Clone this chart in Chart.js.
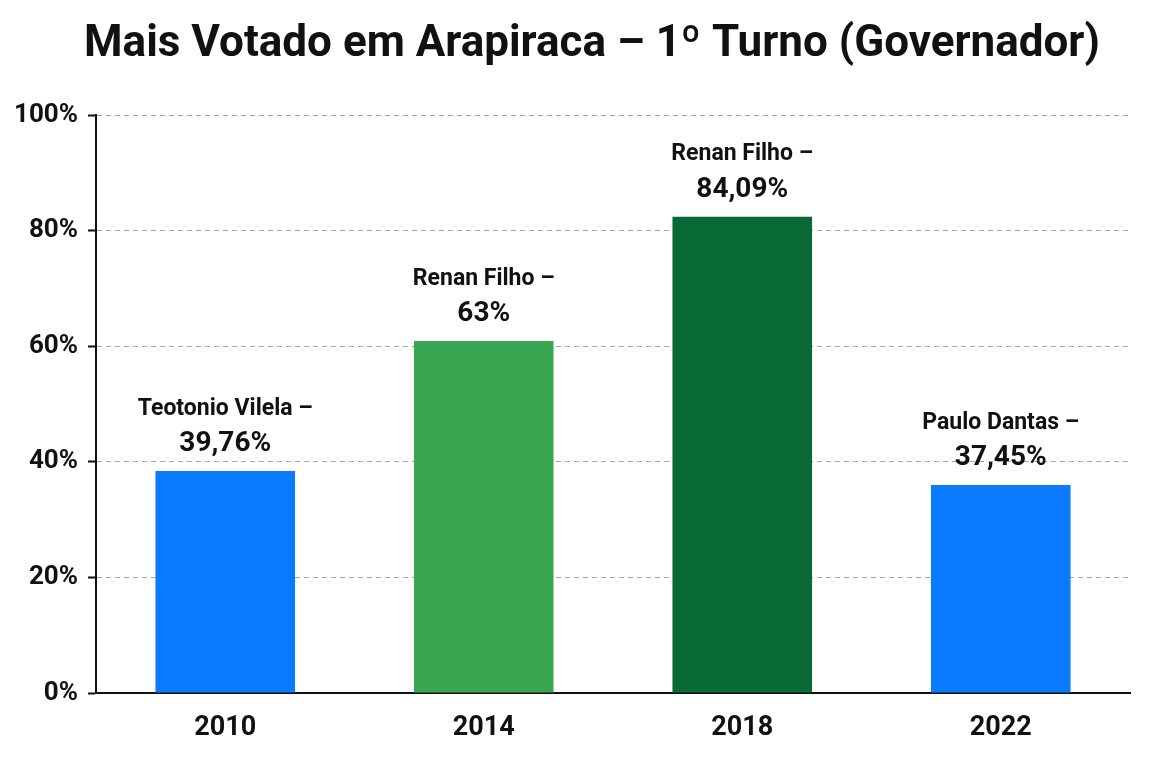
<!DOCTYPE html>
<html>
<head>
<meta charset="utf-8">
<script src="https://cdn.jsdelivr.net/npm/chart.js@4/dist/chart.umd.min.js"></script>
<style>
  html, body { margin: 0; padding: 0; background: #fff; }
  #wrap { width: 1168px; height: 784px; }
</style>
</head>
<body>
<div id="wrap"><canvas id="bar-chart"></canvas></div>
<script>
// data
const years = ['2010', '2014', '2018', '2022'];
const candidates = ['Teotonio Vilela –', 'Renan Filho –', 'Renan Filho –', 'Paulo Dantas –'];
const valueLabels = ['39,76%', '63%', '84,09%', '37,45%'];
const barHeights = [38.4, 60.9, 82.4, 36.0];
const yTicks = [0, 20, 40, 60, 80, 100];
const chartTitle = 'Mais Votado em Arapiraca – 1º Turno (Governador)';

const barColors = ['#0a7bff', '#3aa652', '#086b37', '#0a7bff'];
const FONT = 'Roboto, "Liberation Sans", sans-serif';

// title centred on the page width
const pageTitle = {
  id: 'pageTitle',
  afterDraw(chart) {
    const ctx = chart.ctx;
    ctx.save();
    ctx.fillStyle = '#111';
    ctx.textAlign = 'center';
    ctx.textBaseline = 'middle';
    ctx.font = 'bold 44px ' + FONT;
    ctx.fillText(chartTitle, chart.width / 2 + 8, 45);
    ctx.restore();
  }
};

// two-line label on top of each bar
const topLabels = {
  id: 'topLabels',
  afterDatasetsDraw(chart) {
    const ctx = chart.ctx;
    const meta = chart.getDatasetMeta(0);
    ctx.save();
    ctx.fillStyle = '#111';
    ctx.textAlign = 'center';
    ctx.textBaseline = 'middle';
    meta.data.forEach(function (bar, i) {
      ctx.font = 'bold 23px ' + FONT;
      ctx.fillText(candidates[i], bar.x, bar.y - 62);
      ctx.font = 'bold 28px ' + FONT;
      ctx.fillText(valueLabels[i], bar.x, bar.y - 27);
    });
    ctx.restore();
  }
};

new Chart(document.getElementById('bar-chart'), {
  type: 'bar',
  data: {
    labels: years,
    datasets: [{
      data: barHeights,
      backgroundColor: barColors,
      barPercentage: 0.54,
      categoryPercentage: 1
    }]
  },
  options: {
    responsive: true,
    maintainAspectRatio: false,
    animation: false,
    layout: { padding: { left: 0, right: 38, top: 115, bottom: 0 } },
    plugins: {
      legend: { display: false },
      tooltip: { enabled: false },
      title: { display: false }
    },
    scales: {
      x: {
        grid: { display: false },
        border: { display: true, color: '#111', width: 2 },
        ticks: {
          color: '#111',
          font: { family: FONT, size: 27, weight: 'bold' },
          padding: 11
        },
        afterFit(scale) { scale.height = 91; }
      },
      y: {
        min: 0,
        max: 100,
        afterBuildTicks(scale) {
          scale.ticks = yTicks.map(function (v) { return { value: v }; });
        },
        grid: {
          color: '#a6a6a6',
          lineWidth: 1,
          tickLength: 8,
          tickColor: '#111',
          tickWidth: 2,
          tickBorderDash: []
        },
        border: { display: true, color: '#111', width: 2, dash: [5, 4] },
        ticks: {
          color: '#111',
          font: { family: FONT, size: 26, weight: 'bold' },
          padding: 10,
          callback: function (v) { return v + '%'; }
        },
        afterFit(scale) { scale.width = 96; }
      }
    }
  },
  plugins: [topLabels, pageTitle]
});
</script>
</body>
</html>
